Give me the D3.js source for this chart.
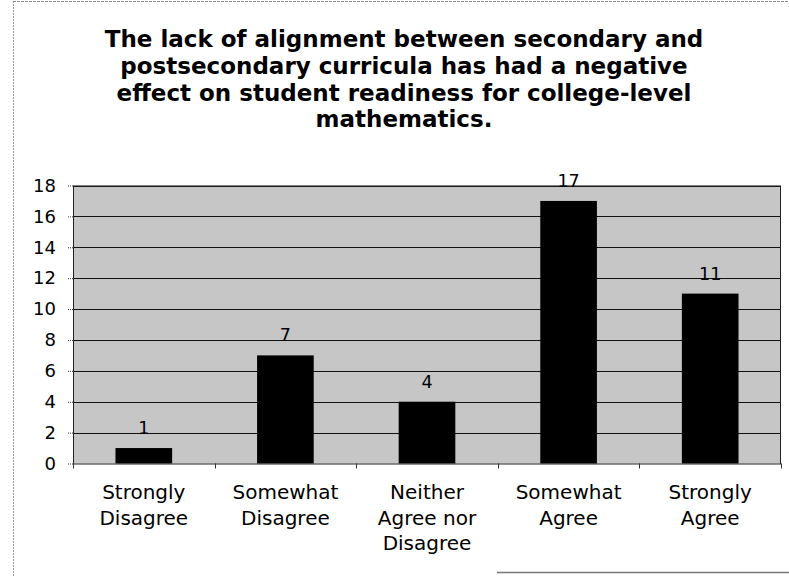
<!DOCTYPE html>
<html>
<head>
<meta charset="utf-8">
<script src="https://cdn.jsdelivr.net/npm/d3@7"></script>
<style>
  html, body { margin: 0; padding: 0; background: #fff; }
  svg { display: block; }
</style>
</head>
<body>
<svg id="chart" width="789" height="576"></svg>
<script>
const titleLines = [
  "The lack of alignment between secondary and",
  "postsecondary curricula has had a negative",
  "effect on student readiness for college-level",
  "mathematics."
];
const categories = [
  ["Strongly", "Disagree"],
  ["Somewhat", "Disagree"],
  ["Neither", "Agree nor", "Disagree"],
  ["Somewhat", "Agree"],
  ["Strongly", "Agree"]
];
const values = [1, 7, 4, 17, 11];
const yTicks = [0, 2, 4, 6, 8, 10, 12, 14, 16, 18];

const svg = d3.select("#chart");
const W = 789, H = 576;
const plot = { left: 73, right: 781, top: 185.5, bottom: 463.5 };

// outer frame (scan border)
svg.append("line").attr("x1", 13.5).attr("x2", 13.5).attr("y1", 1).attr("y2", 576)
  .attr("stroke", "#9a9a9a").attr("stroke-width", 1).attr("stroke-dasharray", "2,1");
svg.append("line").attr("x1", 13).attr("x2", W).attr("y1", 1.5).attr("y2", 1.5)
  .attr("stroke", "#8a8a8a").attr("stroke-width", 1).attr("stroke-dasharray", "3,1");
svg.append("line").attr("x1", 497).attr("x2", W).attr("y1", 572.5).attr("y2", 572.5)
  .attr("stroke", "#777").attr("stroke-width", 1.5);

// title
const title = svg.append("g").attr("font-family", "'DejaVu Sans', Verdana, sans-serif")
  .attr("font-weight", "bold").attr("font-size", 23).attr("fill", "#000")
  .attr("text-anchor", "middle");
const titleY = [47, 74, 100.5, 127];
titleLines.forEach((t, i) => {
  title.append("text").attr("x", 404).attr("y", titleY[i]).text(t);
});

const x = d3.scaleBand().domain(d3.range(categories.length))
  .range([plot.left, plot.right]).padding(0);
const y = d3.scaleLinear().domain([0, 18]).range([plot.bottom, plot.top]);

// plot background
svg.append("rect").attr("x", plot.left).attr("y", plot.top)
  .attr("width", plot.right - plot.left).attr("height", plot.bottom - plot.top)
  .attr("fill", "#c6c6c6");

// gridlines
svg.append("g").selectAll("line").data(yTicks.filter(d => d > 0)).join("line")
  .attr("x1", plot.left).attr("x2", plot.right)
  .attr("y1", d => Math.round(y(d)) + 0.5).attr("y2", d => Math.round(y(d)) + 0.5)
  .attr("stroke", "#111").attr("stroke-width", 1);

// bars
const barW = x.bandwidth() * 0.4;
svg.append("g").selectAll("rect").data(values).join("rect")
  .attr("x", (d, i) => x(i) + (x.bandwidth() - barW) / 2)
  .attr("y", d => y(d))
  .attr("width", barW)
  .attr("height", d => y(0) - y(d))
  .attr("fill", "#000");

// plot border
svg.append("rect").attr("x", plot.left + 0.5).attr("y", plot.top + 0.5)
  .attr("width", plot.right - plot.left - 1).attr("height", plot.bottom - plot.top)
  .attr("fill", "none").attr("stroke", "#222").attr("stroke-width", 1);

// y axis
const yAxis = d3.axisLeft(y).tickValues(yTicks).tickSize(6).tickPadding(11).tickFormat(d3.format("d"));
const yg = svg.append("g").attr("transform", `translate(${plot.left},0)`).call(yAxis);
yg.select(".domain").remove();
yg.selectAll(".tick line").attr("stroke", "#333").attr("stroke-dasharray", "1,1");
yg.selectAll(".tick text").attr("font-family", "'DejaVu Sans', Verdana, sans-serif")
  .attr("font-size", 18).attr("fill", "#000");

// x axis ticks at category boundaries
const bounds = d3.range(categories.length + 1).map(i => plot.left + i * x.step());
svg.append("g").selectAll("line").data(bounds).join("line")
  .attr("x1", d => Math.round(d) + 0.5).attr("x2", d => Math.round(d) + 0.5)
  .attr("y1", plot.bottom).attr("y2", plot.bottom + 5)
  .attr("stroke", "#333").attr("stroke-width", 1);

// category labels
const cl = svg.append("g").attr("font-family", "'DejaVu Sans', Verdana, sans-serif")
  .attr("font-size", 20).attr("fill", "#000").attr("text-anchor", "middle");
categories.forEach((lines, i) => {
  const t = cl.append("text").attr("x", x(i) + x.bandwidth() / 2).attr("y", 499);
  lines.forEach((ln, j) => {
    t.append("tspan").attr("x", x(i) + x.bandwidth() / 2).attr("y", 499 + j * 25.5).text(ln);
  });
});

// value labels
svg.append("g").attr("font-family", "'DejaVu Sans', Verdana, sans-serif")
  .attr("font-size", 17.5).attr("fill", "#000").attr("text-anchor", "middle")
  .selectAll("text").data(values).join("text")
  .attr("x", (d, i) => x(i) + x.bandwidth() / 2)
  .attr("y", d => y(d) - 14)
  .text(d => d);
</script>
</body>
</html>
